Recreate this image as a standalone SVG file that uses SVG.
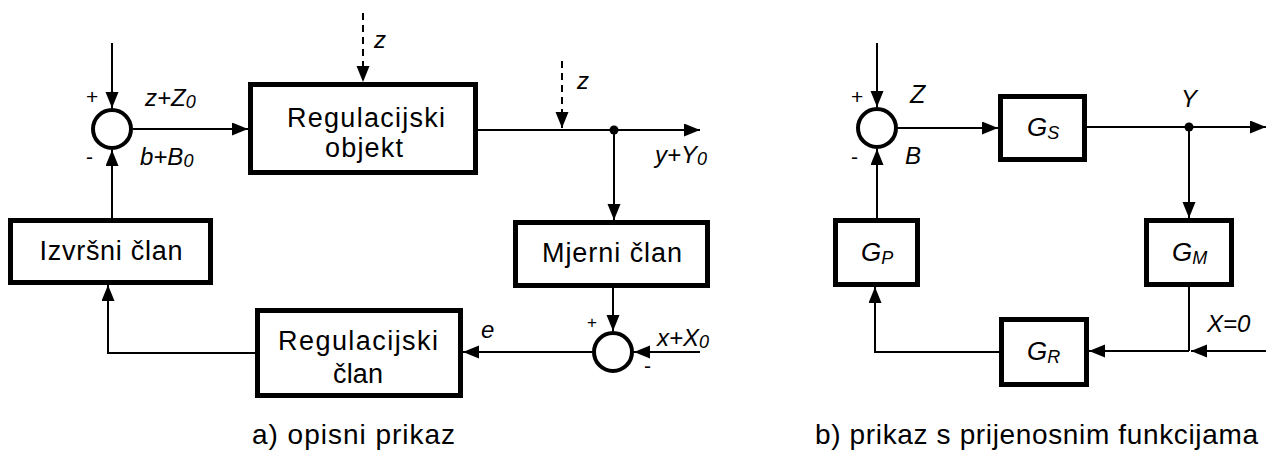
<svg xmlns="http://www.w3.org/2000/svg" width="1266" height="460" viewBox="0 0 1266 460">
  <style>
    .box { fill: #fff; stroke: #000; stroke-width: 5; }
    .sum { fill: none; stroke: #000; stroke-width: 4; }
    .wire { fill: none; stroke: #000; stroke-width: 2; }
    .dash { fill: none; stroke: #000; stroke-width: 2; stroke-dasharray: 7 5; }
    .lbl { font-family: "Liberation Sans", Arial, sans-serif; font-size: 27px; fill: #000; text-anchor: middle; }
    .var { font-family: "Liberation Sans", Arial, sans-serif; font-style: italic; font-size: 24px; fill: #000; }
    .sgn { font-family: "Liberation Sans", Arial, sans-serif; font-size: 21px; fill: #000; }
    .cap { font-family: "Liberation Sans", Arial, sans-serif; font-size: 28px; fill: #000; }
    .g { font-family: "Liberation Sans", Arial, sans-serif; font-style: italic; font-size: 26px; fill: #000; }
    .sub { font-size: 18px; }
  </style>
  <defs>
    <marker id="arr" markerUnits="userSpaceOnUse" markerWidth="17" markerHeight="14" refX="16" refY="6.5" orient="auto">
      <path d="M0,0 L16,6.5 L0,13 z" fill="#000"/>
    </marker>
  </defs>

  <!-- a) descriptive block diagram -->
  <g id="sum-a1">
    <circle class="sum" cx="112" cy="129" r="19"/>
    <text class="sgn" x="86" y="104">+</text>
    <text class="sgn" x="86" y="164">-</text>
  </g>
  <g id="regulacijski-objekt">
    <rect class="box" x="250.5" y="84.5" width="225" height="88"/>
    <text class="lbl" x="366" y="127" textLength="158" lengthAdjust="spacing">Regulacijski</text>
    <text class="lbl" x="364" y="157" textLength="78" lengthAdjust="spacing">objekt</text>
  </g>
  <g id="izvrsni-clan">
    <rect class="box" x="10.5" y="220.5" width="200" height="62"/>
    <text class="lbl" x="111" y="260" textLength="143" lengthAdjust="spacing">Izvršni član</text>
  </g>
  <g id="mjerni-clan">
    <rect class="box" x="515.5" y="222.5" width="192" height="63"/>
    <text class="lbl" x="612" y="262" textLength="140" lengthAdjust="spacing">Mjerni član</text>
  </g>
  <g id="regulacijski-clan">
    <rect class="box" x="257.5" y="310.5" width="203" height="85"/>
    <text class="lbl" x="358" y="350" textLength="160" lengthAdjust="spacing">Regulacijski</text>
    <text class="lbl" x="358" y="383" textLength="50" lengthAdjust="spacing">član</text>
  </g>
  <g id="sum-a2">
    <circle class="sum" cx="613" cy="352" r="19"/>
    <text class="sgn" x="587" y="328" style="font-size:17px">+</text>
    <text class="sgn" x="644" y="373">-</text>
  </g>

  <!-- b) transfer-function block diagram -->
  <g id="sum-b">
    <circle class="sum" cx="877" cy="128" r="19"/>
    <text class="sgn" x="851" y="104">+</text>
    <text class="sgn" x="851" y="164">-</text>
  </g>
  <g id="gs">
    <rect class="box" x="1000.5" y="96.5" width="84" height="63"/>
    <text class="g" x="1027" y="136">G<tspan class="sub" dy="3">S</tspan></text>
  </g>
  <g id="gp">
    <rect class="box" x="835.5" y="220.5" width="82" height="64"/>
    <text class="g" x="861" y="261">G<tspan class="sub" dy="3">P</tspan></text>
  </g>
  <g id="gm">
    <rect class="box" x="1146.5" y="220.5" width="85" height="64"/>
    <text class="g" x="1172" y="261">G<tspan class="sub" dy="3">M</tspan></text>
  </g>
  <g id="gr">
    <rect class="box" x="1001.5" y="319.5" width="85" height="65"/>
    <text class="g" x="1027" y="360">G<tspan class="sub" dy="3">R</tspan></text>
  </g>

  <!-- signal lines -->
  <g id="connectors">
    <path class="wire" d="M112,43 V108" marker-end="url(#arr)"/>
    <path class="wire" d="M133,129 H248" marker-end="url(#arr)"/>
    <path class="wire" d="M478,130 H700" marker-end="url(#arr)"/>
    <path class="dash" d="M363,13 V82" marker-end="url(#arr)"/>
    <path class="dash" d="M562,61 V128" marker-end="url(#arr)"/>
    <path class="wire" d="M614,130 V220" marker-end="url(#arr)"/>
    <path class="wire" d="M613,288 V331" marker-end="url(#arr)"/>
    <path class="wire" d="M700,352 H634" marker-end="url(#arr)"/>
    <path class="wire" d="M592,352 H463" marker-end="url(#arr)"/>
    <path class="wire" d="M255,353 H108 V285" marker-end="url(#arr)"/>
    <path class="wire" d="M112,218 V150" marker-end="url(#arr)"/>
    <circle cx="614" cy="130" r="4.5" fill="#000"/>

    <path class="wire" d="M877,43 V107" marker-end="url(#arr)"/>
    <path class="wire" d="M898,128 H998" marker-end="url(#arr)"/>
    <path class="wire" d="M1087,127 H1266" marker-end="url(#arr)"/>
    <path class="wire" d="M1189,127 V218" marker-end="url(#arr)"/>
    <path class="wire" d="M1189,287 V351"/>
    <path class="wire" d="M1266,351 H1191" marker-end="url(#arr)"/>
    <path class="wire" d="M1189,351 H1089" marker-end="url(#arr)"/>
    <path class="wire" d="M999,352 H875 V287" marker-end="url(#arr)"/>
    <path class="wire" d="M877,218 V149" marker-end="url(#arr)"/>
    <circle cx="1189" cy="127" r="4.5" fill="#000"/>
  </g>

  <!-- signal names -->
  <g id="labels">
    <text class="var" x="145" y="106">z+Z<tspan class="sub" dy="2">0</tspan></text>
    <text class="var" x="140" y="165">b+B<tspan class="sub" dy="2">0</tspan></text>
    <text class="var" x="374" y="48">z</text>
    <text class="var" x="577" y="89">z</text>
    <text class="var" x="655" y="163">y+Y<tspan class="sub" dy="2">0</tspan></text>
    <text class="var" x="481" y="338">e</text>
    <text class="var" x="657" y="346">x+X<tspan class="sub" dy="2">0</tspan></text>

    <text class="var" x="910" y="103" style="font-size:25px">Z</text>
    <text class="var" x="905" y="164">B</text>
    <text class="var" x="1181" y="107">Y</text>
    <text class="var" x="1207" y="332">X=0</text>

    <text class="cap" x="252" y="444" textLength="203" lengthAdjust="spacing">a) opisni prikaz</text>
    <text class="cap" x="815" y="444" textLength="443" lengthAdjust="spacing">b) prikaz s prijenosnim funkcijama</text>
  </g>
</svg>
